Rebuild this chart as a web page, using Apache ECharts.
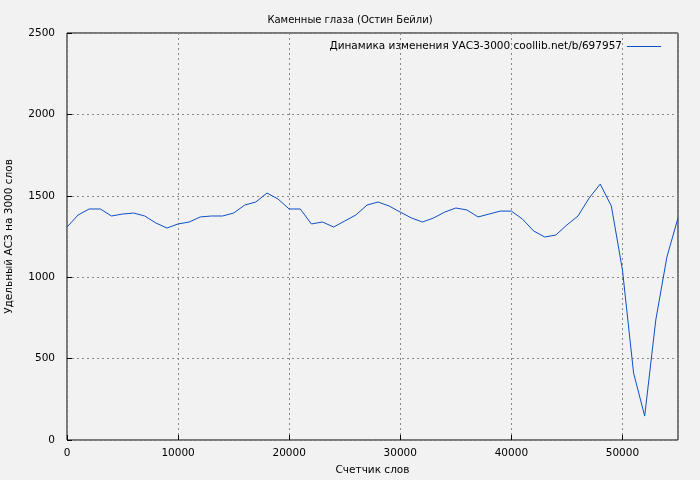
<!DOCTYPE html>
<html><head><meta charset="utf-8">
<script src="https://cdn.jsdelivr.net/npm/echarts@6/dist/echarts.min.js"></script>
<style>body{margin:0;background:#f2f2f2}#c{width:700px;height:480px}</style>
</head><body><div id="c"></div>
<script>
var words = [0,1000,2000,3000,4000,5000,6000,7000,8000,9000,10000,11000,12000,13000,14000,15000,16000,17000,18000,19000,20000,21000,22000,23000,24000,25000,26000,27000,28000,29000,30000,31000,32000,33000,34000,35000,36000,37000,38000,39000,40000,41000,42000,43000,44000,45000,46000,47000,48000,49000,50000,51000,52000,53000,54000,55000];
var uas = [1308,1382,1419,1419,1376,1388,1394,1376,1333,1302,1327,1339,1370,1376,1376,1394,1443,1462,1517,1480,1419,1419,1327,1339,1308,1345,1382,1443,1462,1437,1400,1364,1339,1364,1400,1425,1413,1370,1388,1406,1406,1357,1284,1247,1259,1321,1376,1486,1572,1437,1044,412,147,737,1124,1364];
var seriesName = 'Динамика изменения УАСЗ-3000 coollib.net/b/697957';
var chart = echarts.init(document.getElementById('c'));
var font = 'DejaVu Sans';
chart.setOption({
  backgroundColor: '#f2f2f2',
  animation: false,
  textStyle: {fontFamily: font},
  title: {text: 'Каменные глаза (Остин Бейли)', left: 'center', top: 10,
    textStyle: {fontSize: 10, fontWeight: 'normal', color: '#000', fontFamily: font}},
  legend: {right: 34, top: 36, itemWidth: 34, itemHeight: 1, itemGap: 8, align: 'right',
    icon: 'rect', textStyle: {fontSize: 10.5, color: '#000', fontFamily: font}},
  grid: {left: 67, right: 22, top: 33, bottom: 40, outerBoundsMode: 'none', containLabel: false,
    show: true, borderColor: '#000', borderWidth: 1, backgroundColor: 'transparent'},
  xAxis: {type: 'value', min: 0, max: 55000, interval: 10000,
    name: 'Счетчик слов', nameLocation: 'middle', nameGap: 25,
    nameTextStyle: {fontSize: 10.5, color: '#000'},
    axisLine: {show: false}, axisTick: {inside: true, length: 5, lineStyle: {color: '#000'}},
    axisLabel: {fontSize: 10.5, color: '#000', margin: 8, showMaxLabel: false,
      formatter: function (v) { return String(v); }},
    splitLine: {lineStyle: {color: '#888', type: [2, 3]}}},
  yAxis: {type: 'value', min: 0, max: 2500, interval: 500,
    name: 'Удельный АСЗ на 3000 слов', nameLocation: 'middle', nameGap: 52,
    nameTextStyle: {fontSize: 10.5, color: '#000'},
    axisLine: {show: false}, axisTick: {show: true, inside: true, length: 5, lineStyle: {color: '#000'}},
    axisLabel: {fontSize: 10.5, color: '#000', margin: 12,
      formatter: function (v) { return String(v); }},
    splitLine: {lineStyle: {color: '#888', type: [2, 3]}}},
  series: [{name: seriesName, type: 'line', symbol: 'none',
    data: words.map(function (w, i) { return [w, uas[i]]; }),
    lineStyle: {color: '#0d4fc4', width: 1}, itemStyle: {color: '#0d4fc4'}}]
});
</script></body></html>
